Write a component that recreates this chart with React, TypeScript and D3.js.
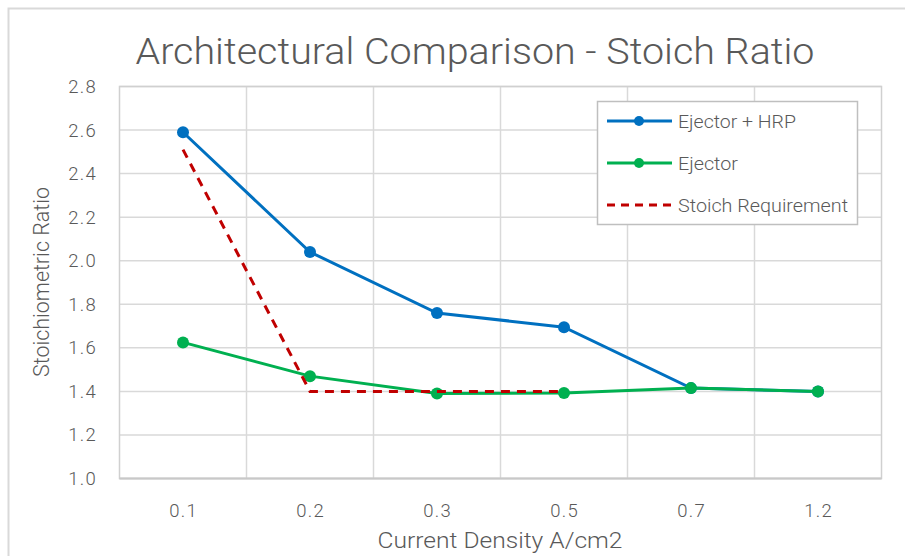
import React from "react";
import * as d3 from "d3";

const categories = ["0.1", "0.2", "0.3", "0.5", "0.7", "1.2"];
const ejectorHRP = [2.59, 2.04, 1.76, 1.695, 1.415, 1.40];
const ejector = [1.625, 1.47, 1.39, 1.393, 1.415, 1.40];
const stoichReq = [2.51, 1.40, 1.40, 1.40];
const yTicks = [1.0, 1.2, 1.4, 1.6, 1.8, 2.0, 2.2, 2.4, 2.6, 2.8];

const W = 905, H = 556;
const plot = { left: 119.5, right: 881.5, top: 86.5, bottom: 478.5 };
const FONT = "Roboto, 'Noto Sans', sans-serif";
const TXT = "#595959";

export default function App() {
  const x = d3.scaleBand<string>().domain(categories).range([plot.left, plot.right]);
  const cx = (c: string) => (x(c) as number) + x.bandwidth() / 2;
  const y = d3.scaleLinear().domain([1.0, 2.8]).range([plot.bottom, plot.top]);
  const line = d3.line<[string, number]>().x(d => cx(d[0])).y(d => y(d[1]));

  const s1 = categories.map((c, i) => [c, ejectorHRP[i]] as [string, number]);
  const s2 = categories.map((c, i) => [c, ejector[i]] as [string, number]);
  const s3 = stoichReq.map((v, i) => [categories[i], v] as [string, number]);

  const legendItems = [
    { label: "Ejector + HRP", color: "#0070C0", dash: null, marker: true, len: 118 },
    { label: "Ejector", color: "#00B050", dash: null, marker: true, len: 60 },
    { label: "Stoich Requirement", color: "#C00000", dash: "8,6", marker: false, len: 170 },
  ];

  return (
    <svg width={W} height={H} style={{ position: "absolute", left: 0, top: 0, background: "#fff" }}>
      <rect x={8.5} y={8.5} width={W + 20} height={H + 20} fill="#fff" stroke="#d9d9d9" strokeWidth={2} />
      <text x={475} y={64} textAnchor="middle" fontFamily={FONT} fontWeight={300} fontSize={37} fill={TXT}
        textLength={679} lengthAdjust="spacingAndGlyphs">Architectural Comparison - Stoich Ratio</text>

      {/* grid */}
      {yTicks.map(t => (
        <line key={"h" + t} x1={plot.left} x2={plot.right} y1={y(t)} y2={y(t)} stroke="#d9d9d9" strokeWidth={1.5} />
      ))}
      {categories.map((c, i) => i > 0 ? (
        <line key={"v" + c} x1={x(c)} x2={x(c)} y1={plot.top} y2={plot.bottom} stroke="#d9d9d9" strokeWidth={1.5} />
      ) : null)}
      <rect x={plot.left} y={plot.top} width={plot.right - plot.left} height={plot.bottom - plot.top}
        fill="none" stroke="#d0d0d0" strokeWidth={1.5} />
      <line x1={plot.left} x2={plot.right} y1={plot.bottom} y2={plot.bottom} stroke="#c8c8c8" strokeWidth={2} />

      {/* y ticks */}
      {yTicks.map(t => (
        <text key={"yl" + t} x={97} y={y(t) + 6.5} textAnchor="end" fontFamily={FONT} fontWeight={300} fontSize={18.5}
          letterSpacing={1.3} fill={TXT}>
          {t.toFixed(1)}
        </text>
      ))}
      {categories.map(c => (
        <text key={"xl" + c} x={cx(c) + 0.7} y={517} textAnchor="middle" fontFamily={FONT} fontWeight={300} fontSize={18.5}
          letterSpacing={1.3} fill={TXT}>
          {c}
        </text>
      ))}
      <text x={500} y={548} textAnchor="middle" fontFamily={FONT} fontWeight={300} fontSize={22} fill={TXT}
        textLength={245} lengthAdjust="spacingAndGlyphs">Current Density A/cm2</text>
      <text transform={`translate(49,${282}) rotate(-90)`} textAnchor="middle" fontFamily={FONT} fontWeight={300} fontSize={22} fill={TXT}
        textLength={190} lengthAdjust="spacingAndGlyphs">Stoichiometric Ratio</text>

      {/* series */}
      <path d={line(s1) || ""} fill="none" stroke="#0070C0" strokeWidth={3} />
      {s1.map(d => <circle key={"a" + d[0]} cx={cx(d[0])} cy={y(d[1])} r={6} fill="#0070C0" />)}
      <path d={line(s2) || ""} fill="none" stroke="#00B050" strokeWidth={3} />
      {s2.map(d => <circle key={"b" + d[0]} cx={cx(d[0])} cy={y(d[1])} r={6} fill="#00B050" />)}
      <path d={line(s3) || ""} fill="none" stroke="#C00000" strokeWidth={3} strokeDasharray="9,7" />

      {/* legend */}
      <rect x={597.5} y={101.5} width={260} height={123} fill="#fff" stroke="#bfbfbf" strokeWidth={1.5} />
      {legendItems.map((it, i) => {
        const ly = 121 + i * 42;
        return (
          <g key={it.label}>
            <line x1={607} x2={672} y1={ly} y2={ly} stroke={it.color} strokeWidth={3} strokeDasharray={it.dash || undefined} />
            {it.marker && <circle cx={639} cy={ly} r={5} fill={it.color} />}
            <text x={678} y={ly + 6.5} fontFamily={FONT} fontWeight={300} fontSize={18} fill={TXT}
              textLength={it.len} lengthAdjust="spacingAndGlyphs">{it.label}</text>
          </g>
        );
      })}
    </svg>
  );
}
